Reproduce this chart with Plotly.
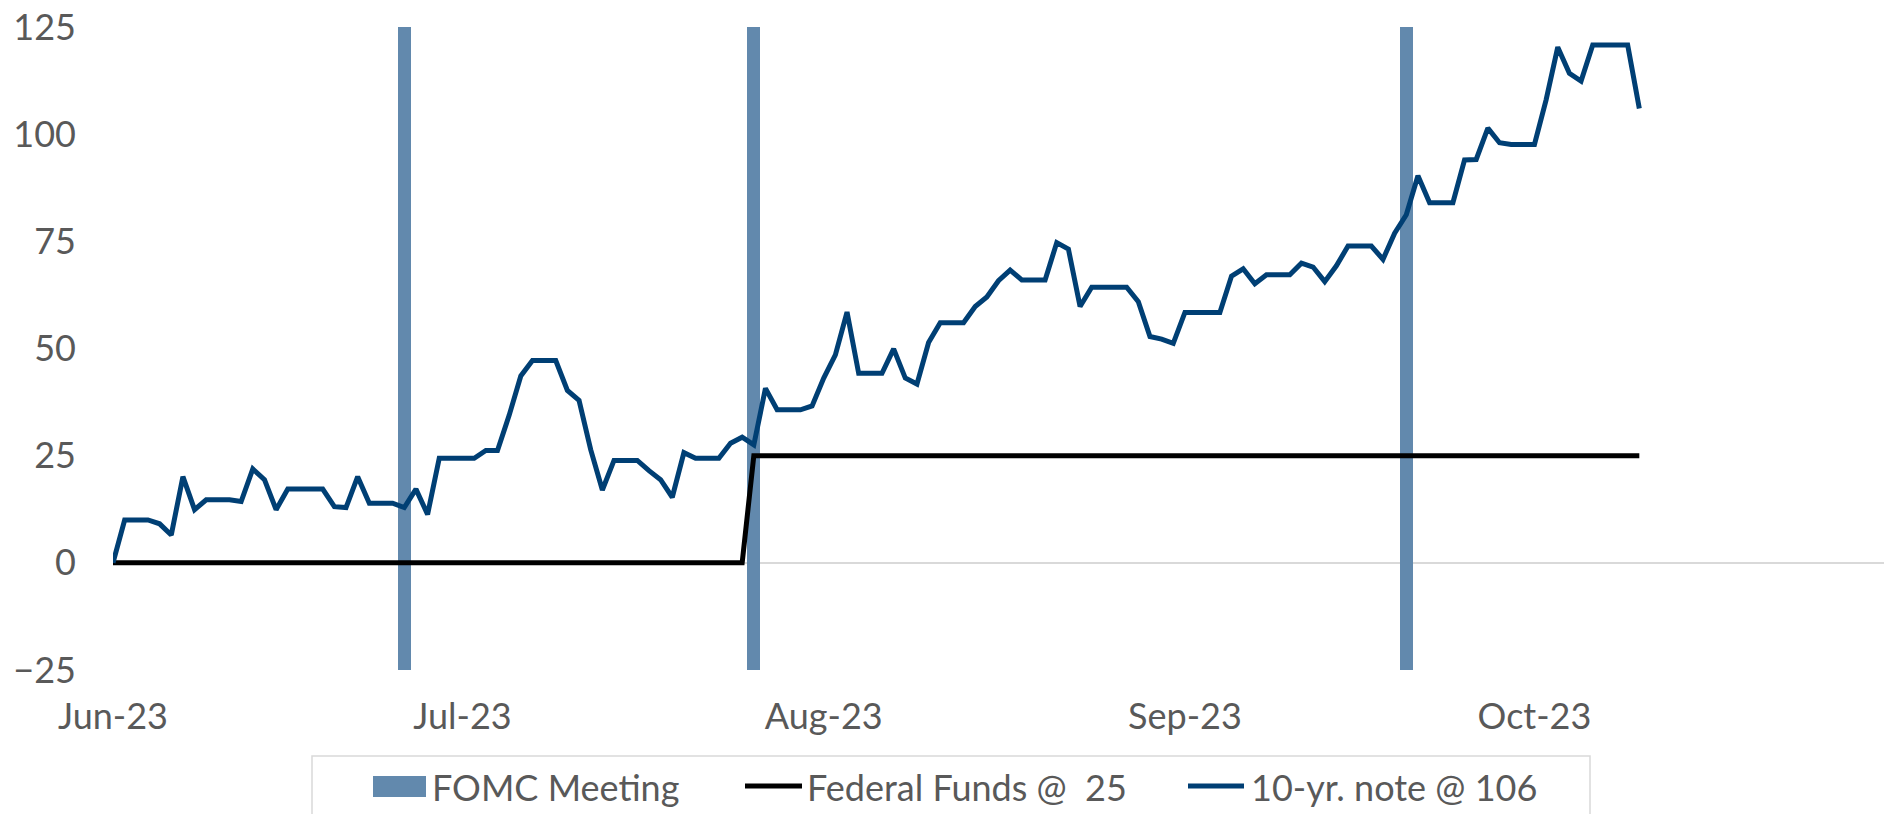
import pandas as pd
import plotly.graph_objects as go

# ---------------- data ----------------
# 10-yr note change (bp), daily from 2023-06-01 to 2023-10-10 (weekends/holidays carry forward)
note_start, note_end = "2023-06-01", "2023-10-10"
ten_year = [
    0.0, 10.0, 10.0, 10.0, 9.1, 6.5, 20.1, 12.4, 14.7, 14.7,
    14.7, 14.3, 21.9, 19.4, 12.4, 17.2, 17.2, 17.2, 17.2, 13.1,
    12.9, 20.1, 13.9, 13.9, 13.9, 12.9, 17.2, 11.3, 24.4, 24.4,
    24.4, 24.4, 26.2, 26.2, 34.4, 43.6, 47.2, 47.2, 47.2, 40.2,
    37.9, 26.4, 17.0, 23.9, 23.9, 23.9, 21.5, 19.4, 15.3, 25.7,
    24.4, 24.4, 24.4, 27.9, 29.3, 27.5, 40.7, 35.7, 35.7, 35.7,
    36.6, 43.1, 48.5, 58.5, 44.2, 44.2, 44.2, 49.9, 43.1, 41.7,
    51.4, 56.0, 56.0, 56.0, 59.8, 62.0, 65.8, 68.3, 66.0, 66.0,
    66.0, 74.7, 73.2, 59.8, 64.3, 64.3, 64.3, 64.3, 60.9, 52.8,
    52.2, 51.2, 58.4, 58.4, 58.4, 58.4, 66.9, 68.6, 65.1, 67.2,
    67.2, 67.2, 69.9, 69.0, 65.6, 69.3, 73.9, 73.9, 73.9, 70.8,
    76.9, 81.2, 90.3, 84.0, 84.0, 84.0, 94.0, 94.1, 101.4, 98.0,
    97.6, 97.6, 97.6, 108.0, 120.3, 114.2, 112.4, 120.8, 120.8, 120.8,
    120.8, 106.0,
]
note_dates = pd.date_range(note_start, note_end, freq="D")

# Federal funds change (bp): vertices of the step line
fed_dates = ["2023-06-01", "2023-07-25", "2023-07-26", "2023-10-10"]
fed_values = [0, 0, 25, 25]

# FOMC meeting markers
fomc_dates = ["2023-06-26", "2023-07-26", "2023-09-20"]

# axes
y_min, y_max = -25, 125
y_ticks = [-25, 0, 25, 50, 75, 100, 125]
x_tick_dates = ["2023-06-01", "2023-07-01", "2023-08-01", "2023-09-01", "2023-10-01"]
x_tick_labels = ["Jun-23", "Jul-23", "Aug-23", "Sep-23", "Oct-23"]
x_range = ["2023-06-01", "2023-10-31"]

legend_labels = ["FOMC Meeting", "Federal Funds @\u00a0 25", "10-yr. note @ 106"]

# ---------------- style ----------------
W, H = 1887, 814
ML, MR, MT, MB = 113, 3, 27, 144
PW, PH = W - ML - MR, H - MT - MB
FONT = "Lato"
TXT = "#595959"
BAR_C = "#6289AD"
NOTE_C = "#003F74"
FED_C = "#000000"
GRID_C = "#D9D9D9"
LW = 5
DAY_MS = 86400000


def px(x):
    return (x - ML) / PW


def py(y):
    return (H - MB - y) / PH


fig = go.Figure()
fig.add_trace(go.Bar(
    x=fomc_dates, y=[y_max - y_min] * len(fomc_dates), base=y_min,
    width=1.12 * DAY_MS, marker=dict(color=BAR_C, line=dict(width=0)),
    name=legend_labels[0], showlegend=False,
))
fig.add_trace(go.Scatter(
    x=fed_dates, y=fed_values, mode="lines",
    line=dict(color=FED_C, width=LW), name=legend_labels[1], showlegend=False,
))
fig.add_trace(go.Scatter(
    x=note_dates, y=ten_year, mode="lines",
    line=dict(color=NOTE_C, width=LW), name=legend_labels[2], showlegend=False,
))

# ---------------- manual legend ----------------
shapes = [
    dict(type="rect", xref="paper", yref="paper", x0=px(312), x1=px(1590), y0=py(840), y1=py(756),
         line=dict(color=GRID_C, width=1.5), fillcolor="rgba(0,0,0,0)", layer="above"),
    dict(type="rect", xref="paper", yref="paper", x0=px(373), x1=px(426), y0=py(797), y1=py(776),
         line=dict(width=0), fillcolor=BAR_C),
    dict(type="line", xref="paper", yref="paper", x0=px(745), x1=px(802), y0=py(786), y1=py(786),
         line=dict(color=FED_C, width=LW)),
    dict(type="line", xref="paper", yref="paper", x0=px(1188), x1=px(1244), y0=py(786), y1=py(786),
         line=dict(color=NOTE_C, width=LW)),
]
annotations = []
for lbl, x0 in zip(legend_labels, [430, 805, 1249]):
    annotations.append(dict(
        text=lbl, xref="paper", yref="paper", x=px(x0), y=py(787),
        xanchor="left", yanchor="middle", showarrow=False,
        font=dict(family=FONT, size=36, color=TXT),
    ))

fig.update_layout(
    width=W, height=H,
    margin=dict(l=ML, r=MR, t=MT, b=MB, pad=0),
    paper_bgcolor="white", plot_bgcolor="white",
    showlegend=False, bargap=0,
    shapes=shapes, annotations=annotations,
    font=dict(family=FONT, size=36, color=TXT),
)
fig.update_xaxes(
    type="date", range=x_range, tickvals=x_tick_dates, ticktext=x_tick_labels,
    showgrid=False, showline=False, zeroline=False, ticks="",
    tickfont=dict(family=FONT, size=36, color=TXT), ticklabelstandoff=22,
)
fig.update_yaxes(
    range=[y_min, y_max], tickvals=y_ticks, showgrid=False, showline=False,
    zeroline=True, zerolinecolor=GRID_C, zerolinewidth=1.5, ticks="",
    tickfont=dict(family=FONT, size=36, color=TXT), ticklabelstandoff=36,
)

fig.write_html(
    "out.html",
    config={"displayModeBar": False},
    post_script="document.body.style.margin='0';document.body.style.overflow='hidden';",
)
